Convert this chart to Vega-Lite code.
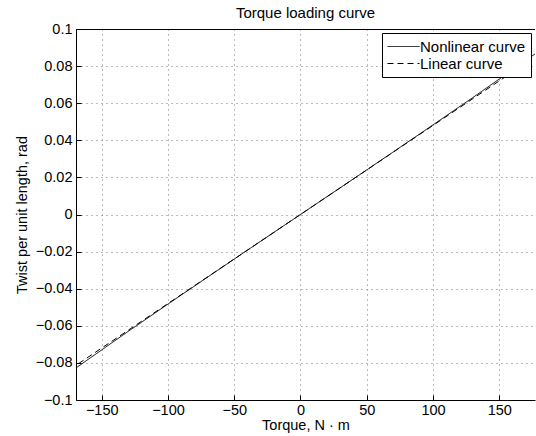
{
  "$schema": "https://vega.github.io/schema/vega-lite/v6.json",
  "width": 536,
  "height": 436,
  "autosize": {"type": "fit", "contains": "padding"},
  "padding": {"left": 14, "top": 6, "right": 0, "bottom": 4},
  "background": "white",
  "title": {"text": "Torque loading curve", "style": "plottitle", "fontSize": 15, "fontWeight": "normal", "color": "black", "offset": 0},
  "config": {
    "view": {"stroke": null},
    "font": "Liberation Sans",
    "title": {"fontSize": 15, "fontWeight": "normal", "color": "black", "font": "Liberation Sans"},
    "style": {"group-title": {"fontSize": 15, "fontWeight": "normal"}, "plottitle": {"fontSize": 15, "fontWeight": "normal", "font": "Liberation Sans"}},
    "axis": {
      "domainColor": "black", "domainWidth": 1,
      "tickColor": "black", "tickSize": -5, "tickWidth": 1,
      "labelFont": "Liberation Sans", "labelFontSize": 14.5, "labelColor": "black", "labelOverlap": false,
      "labelExpr": "replace(datum.label, '-', '−')",
      "titleFont": "Liberation Sans", "titleFontSize": 14.5, "titleFontWeight": "normal", "titleColor": "black",
      "gridColor": "#777", "gridDash": [1, 4], "gridWidth": 1, "gridOpacity": 1
    },
    "axisX": {"labelPadding": 8, "titlePadding": 2},
    "axisY": {"labelPadding": 9, "titlePadding": 6}
  },
  "data": {
    "values": [
      {"torque": -180, "twist": -0.0881, "series": "Nonlinear curve"},
      {"torque": -170, "twist": -0.0830, "series": "Nonlinear curve"},
      {"torque": -160, "twist": -0.0780, "series": "Nonlinear curve"},
      {"torque": -150, "twist": -0.0730, "series": "Nonlinear curve"},
      {"torque": -140, "twist": -0.0680, "series": "Nonlinear curve"},
      {"torque": -130, "twist": -0.0630, "series": "Nonlinear curve"},
      {"torque": -120, "twist": -0.0581, "series": "Nonlinear curve"},
      {"torque": -110, "twist": -0.0532, "series": "Nonlinear curve"},
      {"torque": -100, "twist": -0.0483, "series": "Nonlinear curve"},
      {"torque": -90, "twist": -0.0434, "series": "Nonlinear curve"},
      {"torque": -80, "twist": -0.0386, "series": "Nonlinear curve"},
      {"torque": -70, "twist": -0.0337, "series": "Nonlinear curve"},
      {"torque": -60, "twist": -0.0289, "series": "Nonlinear curve"},
      {"torque": -50, "twist": -0.0240, "series": "Nonlinear curve"},
      {"torque": -40, "twist": -0.0192, "series": "Nonlinear curve"},
      {"torque": -30, "twist": -0.0144, "series": "Nonlinear curve"},
      {"torque": -20, "twist": -0.0096, "series": "Nonlinear curve"},
      {"torque": -10, "twist": -0.0048, "series": "Nonlinear curve"},
      {"torque": 0, "twist": 0.0, "series": "Nonlinear curve"},
      {"torque": 10, "twist": 0.0048, "series": "Nonlinear curve"},
      {"torque": 20, "twist": 0.0096, "series": "Nonlinear curve"},
      {"torque": 30, "twist": 0.0144, "series": "Nonlinear curve"},
      {"torque": 40, "twist": 0.0192, "series": "Nonlinear curve"},
      {"torque": 50, "twist": 0.0240, "series": "Nonlinear curve"},
      {"torque": 60, "twist": 0.0289, "series": "Nonlinear curve"},
      {"torque": 70, "twist": 0.0337, "series": "Nonlinear curve"},
      {"torque": 80, "twist": 0.0386, "series": "Nonlinear curve"},
      {"torque": 90, "twist": 0.0434, "series": "Nonlinear curve"},
      {"torque": 100, "twist": 0.0483, "series": "Nonlinear curve"},
      {"torque": 110, "twist": 0.0532, "series": "Nonlinear curve"},
      {"torque": 120, "twist": 0.0581, "series": "Nonlinear curve"},
      {"torque": 130, "twist": 0.0630, "series": "Nonlinear curve"},
      {"torque": 140, "twist": 0.0680, "series": "Nonlinear curve"},
      {"torque": 150, "twist": 0.0730, "series": "Nonlinear curve"},
      {"torque": 160, "twist": 0.0780, "series": "Nonlinear curve"},
      {"torque": 170, "twist": 0.0830, "series": "Nonlinear curve"},
      {"torque": 180, "twist": 0.0881, "series": "Nonlinear curve"},
      {"torque": -180, "twist": -0.0864, "series": "Linear curve"},
      {"torque": -90, "twist": -0.0432, "series": "Linear curve"},
      {"torque": 0, "twist": 0.0, "series": "Linear curve"},
      {"torque": 90, "twist": 0.0432, "series": "Linear curve"},
      {"torque": 180, "twist": 0.0864, "series": "Linear curve"}
    ]
  },
  "layer": [
    {
      "mark": {"type": "line", "color": "black", "strokeWidth": 1, "clip": true},
      "encoding": {
        "x": {"field": "torque", "type": "quantitative",
              "scale": {"domain": [-169.4, 177], "nice": false, "zero": false},
              "axis": {"values": [-150, -100, -50, 0, 50, 100, 150], "title": "Torque, N · m", "grid": true, "labelOverlap": false}},
        "y": {"field": "twist", "type": "quantitative",
              "scale": {"domain": [-0.1, 0.1], "nice": false},
              "axis": {"values": [-0.1, -0.08, -0.06, -0.04, -0.02, 0, 0.02, 0.04, 0.06, 0.08, 0.1], "format": "~g", "title": "Twist per unit length, rad", "grid": true, "labelOverlap": false}},
        "strokeDash": {"field": "series", "type": "nominal",
              "scale": {"domain": ["Nonlinear curve", "Linear curve"], "range": [[1, 0], [6, 4]]},
              "legend": {"title": null, "orient": "top-right", "offset": 4, "padding": 5,
                         "fillColor": "white", "strokeColor": "black",
                         "symbolType": "M-1,0H3", "symbolSize": 256, "symbolStrokeColor": "black", "symbolStrokeWidth": 1,
                         "labelFontSize": 15, "labelColor": "black", "labelFont": "Liberation Sans", "labelOffset": 16, "rowPadding": 0,
                         "labelExpr": "datum.label + '\u00a0\u00a0\u00a0'"}}
      }
    },
    {
      "mark": {"type": "rule", "color": "black", "strokeWidth": 1, "yOffset": 0.5},
      "encoding": {
        "y": {"datum": 0.1, "type": "quantitative",
              "scale": {"domain": [-0.1, 0.1], "nice": false},
              "axis": {"values": [-0.1, -0.08, -0.06, -0.04, -0.02, 0, 0.02, 0.04, 0.06, 0.08, 0.1], "format": "~g", "title": "Twist per unit length, rad", "grid": true, "labelOverlap": false}}
      }
    }
  ]
}
